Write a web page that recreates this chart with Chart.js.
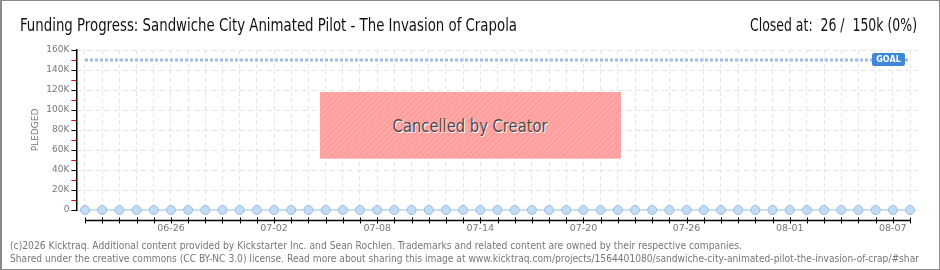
<!DOCTYPE html>
<html>
<head>
<meta charset="utf-8">
<script src="https://cdn.jsdelivr.net/npm/chart.js@4.4.1/dist/chart.umd.min.js"></script>
<style>
  html,body{margin:0;padding:0;background:#fff;}
  #wrap{position:relative;width:940px;height:270px;overflow:hidden;background:#fff;}
  #frame{position:absolute;left:0;top:0;width:937px;height:268px;border:1px solid #8a8a8a;border-left:2px solid #8a8a8a;box-sizing:content-box;pointer-events:none;z-index:5;}
  canvas{position:absolute;left:0;top:0;}
  .title{position:absolute;top:16px;line-height:18px;font-family:'DejaVu Sans Condensed','Liberation Sans Narrow',sans-serif;font-size:18px;color:#111;white-space:nowrap;z-index:3;}
  #t1{left:20px;transform-origin:0 50%;}
  #t2{left:750px;transform-origin:0 50%;}
  .foot{position:absolute;left:10px;line-height:12px;font-family:'DejaVu Sans Condensed','DejaVu Sans',sans-serif;font-size:10px;color:#777;white-space:nowrap;z-index:3;transform-origin:0 50%;}
  #f1{top:240px;}
  #f2{top:253px;}
  #cancel{position:absolute;left:320px;top:92px;width:301px;height:66px;z-index:4;
    background:repeating-linear-gradient(135deg,#ff9c9c 0px,#ff9c9c 2px,#ffa8a8 2px,#ffa8a8 4px);
    border-bottom:1px solid #ffc0c0;
    display:flex;align-items:center;justify-content:center;}
  #ctext{font-family:'DejaVu Sans Condensed','Liberation Sans Narrow',sans-serif;font-size:18px;color:#4a4a4a;
    text-shadow:1px 1px 0 #fff;white-space:nowrap;display:inline-block;transform-origin:50% 50%;}
</style>
</head>
<body>
<div id="wrap">
  <canvas id="c" width="940" height="270"></canvas>
  <div class="title" id="t1" data-w="497">Funding Progress: Sandwiche City Animated Pilot - The Invasion of Crapola</div>
  <div class="title" id="t2" data-w="167">Closed at:&nbsp; 26 /&nbsp; 150k (0%)</div>
  <div id="cancel"><span id="ctext" data-w="155">Cancelled by Creator</span></div>
  <div class="foot" id="f1" data-w="732">(c)2026 Kicktraq. Additional content provided by Kickstarter Inc. and Sean Rochlen. Trademarks and related content are owned by their respective companies.</div>
  <div class="foot" id="f2" data-w="909">Shared under the creative commons (CC BY-NC 3.0) license. Read more about sharing this image at www.kicktraq.com/projects/1564401080/sandwiche-city-animated-pilot-the-invasion-of-crap/#shar</div>
  <div id="frame"></div>
</div>
<script>
// ---- data ----
const dates = [
  '06-21','06-22','06-23','06-24','06-25','06-26','06-27','06-28','06-29','06-30',
  '07-01','07-02','07-03','07-04','07-05','07-06','07-07','07-08','07-09','07-10',
  '07-11','07-12','07-13','07-14','07-15','07-16','07-17','07-18','07-19','07-20',
  '07-21','07-22','07-23','07-24','07-25','07-26','07-27','07-28','07-29','07-30',
  '07-31','08-01','08-02','08-03','08-04','08-05','08-06','08-07','08-08'
];
const pledged = [
  0,0,0,0,0,0,0,0,0,0,
  0,0,0,0,0,0,0,0,0,0,
  0,0,0,0,0,0,0,0,0,0,
  0,0,0,0,0,0,0,0,0,0,
  0,0,0,0,0,0,0,0,0
];
const goalValue = 150000;
const goal = dates.map(() => goalValue);
const yTickStep = 10000;
const yMax = 160000;

// fit text widths to the reference layout
document.querySelectorAll('[data-w]').forEach(el => {
  const target = parseFloat(el.dataset.w);
  const w = el.getBoundingClientRect().width;
  if (w > 0) el.style.transform = 'scaleX(' + (target / w) + ')';
});

// ---- plugins ----
const xAxisPlugin = {
  id: 'xAxisLine',
  afterDraw(chart) {
    const {ctx, scales: {x}, chartArea} = chart;
    const y0 = chartArea.bottom + 10.5;
    const first = x.getPixelForValue(0), last = x.getPixelForValue(dates.length - 1);
    ctx.save();
    ctx.strokeStyle = '#000';
    ctx.lineWidth = 1.5;
    ctx.beginPath();
    ctx.moveTo(first, y0); ctx.lineTo(last + 1, y0);
    ctx.stroke();
    ctx.lineWidth = 1;
    for (let i = 0; i < dates.length; i++) {
      const px = Math.round(x.getPixelForValue(i)) + 0.5;
      ctx.beginPath();
      ctx.moveTo(px, y0 - 3); ctx.lineTo(px, y0 + 3);
      ctx.stroke();
    }
    ctx.restore();
  }
};
const goalLabelPlugin = {
  id: 'goalLabel',
  afterDatasetsDraw(chart) {
    const {ctx} = chart;
    const meta = chart.getDatasetMeta(1);
    const pt = meta.data[meta.data.length - 1];
    const w = 33, h = 13;
    const bx = pt.x - 38, by = pt.y - 7;
    ctx.save();
    ctx.fillStyle = '#3f88d8';
    ctx.beginPath();
    if (ctx.roundRect) ctx.roundRect(bx, by, w, h, 2); else ctx.rect(bx, by, w, h);
    ctx.fill();
    ctx.fillStyle = '#fff';
    ctx.font = 'bold 8px "DejaVu Sans"';
    ctx.textAlign = 'center';
    ctx.textBaseline = 'middle';
    ctx.fillText('GOAL', bx + w / 2, by + h / 2 + 0.5);
    ctx.restore();
  }
};

new Chart(document.getElementById('c'), {
  type: 'line',
  data: {
    labels: dates,
    datasets: [
      {
        label: 'Pledged',
        data: pledged,
        borderColor: '#c8ddf6',
        borderWidth: 2,
        backgroundColor: '#c4dbf6',
        pointBorderColor: '#9cbde3',
        pointBorderWidth: 1,
        pointRadius: 4.5,
        tension: 0,
        clip: false
      },
      {
        label: 'Goal',
        data: goal,
        borderColor: '#9dbde4',
        borderWidth: 3,
        borderDash: [3, 2],
        pointRadius: 0,
        tension: 0,
        clip: false
      }
    ]
  },
  plugins: [xAxisPlugin, goalLabelPlugin],
  options: {
    responsive: false,
    animation: false,
    events: [],
    layout: {padding: {left: 0, top: 50, right: 21.4, bottom: 0}},
    plugins: {legend: {display: false}, tooltip: {enabled: false}, title: {display: false}},
    scales: {
      x: {
        type: 'category',
        offset: true,
        afterFit(s) { s.height = 60; },
        border: {display: false, dash: [4, 3]},
        grid: {
          color: '#e4e4e4',
          lineWidth: 1,
          drawTicks: false,
          offset: false
        },
        ticks: {
          autoSkip: false,
          maxRotation: 0,
          padding: 13,
          color: '#777',
          font: {family: 'DejaVu Sans', size: 9.5},
          callback(v, i) { return i % 6 === 5 ? dates[i] : ''; }
        }
      },
      y: {
        min: 0,
        max: yMax,
        afterFit(s) { s.width = 76.4; },
        border: {display: true, color: '#000', width: 1.5, dash: [5, 4]},
        title: {
          display: true,
          text: 'PLEDGED',
          color: '#777',
          font: {family: 'DejaVu Sans', size: 9},
          padding: {top: 30, bottom: 0}
        },
        grid: {
          lineWidth: 1,
          tickLength: 5,
          color(ctx) { return ctx.tick && ctx.tick.value % 20000 === 0 ? '#e4e4e4' : 'rgba(0,0,0,0)'; },
          tickColor(ctx) { return ctx.tick && ctx.tick.value % 20000 === 0 ? '#000' : '#e00000'; }
        },
        ticks: {
          stepSize: yTickStep,
          autoSkip: false,
          padding: 2,
          color: '#777',
          font: {family: 'DejaVu Sans', size: 9},
          callback(v) { return v % 20000 === 0 ? (v === 0 ? '0' : (v / 1000) + 'K') : ''; }
        }
      }
    }
  }
});
</script>
</body>
</html>
